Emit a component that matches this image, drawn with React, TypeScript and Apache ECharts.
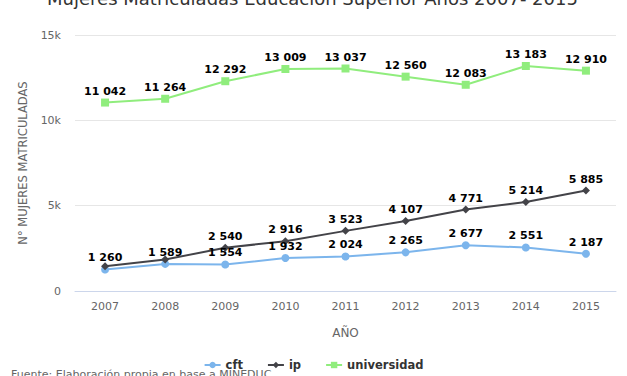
import React, { useEffect, useRef } from "react";
import * as echarts from "echarts";

const years = ["2007", "2008", "2009", "2010", "2011", "2012", "2013", "2014", "2015"];
const cft = [1260, 1589, 1554, 1932, 2024, 2265, 2677, 2551, 2187];
const ip = [1450, 1840, 2540, 2916, 3523, 4107, 4771, 5214, 5885];
const universidad = [11042, 11264, 12292, 13009, 13037, 12560, 12083, 13183, 12910];
const ipHiddenLabels = [0, 1];

const titleText = "Mujeres Matriculadas Educación Superior Años 2007- 2015";
const footerText = "Fuente: Elaboración propia en base a MINEDUC";
const yTicksLabel = (v: number) => (v === 0 ? "0" : v / 1000 + "k");

const FONT = "DejaVu Sans";
const fmt = (v: number) => String(v).replace(/\B(?=(\d{3})+(?!\d))/g, " ");

export default function App() {
  const ref = useRef<HTMLDivElement>(null);
  useEffect(() => {
    if (!ref.current) return;
    const chart = echarts.init(ref.current, undefined, { renderer: "svg" });
    const label = {
      show: true,
      position: "top",
      distance: 2,
      color: "#000",
      fontSize: 11,
      fontWeight: "bold",
      fontFamily: FONT,
      formatter: (p: any) => fmt(p.value),
    };
    const mk = (name: string, data: number[], color: string, symbol: string, hidden: number[] = []) => ({
      name,
      type: "line",
      data: data.map((v, i) => (hidden.includes(i) ? { value: v, label: { show: false } } : v)),
      symbol,
      symbolSize: 8,
      lineStyle: { color, width: 2 },
      itemStyle: { color },
      label,
    });
    chart.setOption({
      animation: false,
      textStyle: { fontFamily: FONT },
      grid: { left: 75, right: 11, top: 35, bottom: 85, containLabel: false },
      legend: {
        left: "center",
        top: 354,
        itemWidth: 16,
        itemHeight: 8,
        itemGap: 24,
        textStyle: { fontSize: 11.5, fontWeight: "bold", color: "#333", fontFamily: FONT },
        data: ["cft", "ip", "universidad"],
      },
      xAxis: {
        type: "category",
        data: years,
        boundaryGap: true,
        axisLine: { lineStyle: { color: "#ccd6eb" } },
        axisTick: { show: false },
        axisLabel: { color: "#666", fontSize: 11, margin: 10, fontFamily: FONT },
        name: "AÑO",
        nameLocation: "middle",
        nameGap: 36,
        nameTextStyle: { color: "#666", fontSize: 12, fontFamily: FONT },
      },
      yAxis: {
        type: "value",
        min: 0,
        max: 15000,
        interval: 5000,
        axisLine: { show: false },
        axisTick: { show: false },
        splitLine: { lineStyle: { color: "#e6e6e6" } },
        axisLabel: { color: "#666", fontSize: 11, margin: 14, fontFamily: FONT, formatter: yTicksLabel },
        name: "N° MUJERES MATRICULADAS",
        nameLocation: "middle",
        nameRotate: 90,
        nameGap: 46,
        nameTextStyle: { color: "#666", fontSize: 11.5, fontFamily: FONT },
      },
      graphic: [
        {
          type: "text",
          x: 312.5,
          y: -1.2,
          style: { text: titleText, fill: "#333", fontSize: 18, fontFamily: FONT, align: "center", verticalAlign: "middle" },
        },
        {
          type: "text",
          x: 11,
          y: 374,
          z: -1,
          style: { text: footerText, fill: "#666", fontSize: 11, fontFamily: FONT, align: "left", verticalAlign: "middle" },
        },
      ],
      series: [
        mk("cft", cft, "#7cb5ec", "circle"),
        mk("ip", ip, "#434348", "diamond", ipHiddenLabels),
        mk("universidad", universidad, "#90ed7d", "rect"),
      ],
    });
    return () => chart.dispose();
  }, []);
  return <div ref={ref} style={{ width: 627, height: 376, position: "absolute", left: 0, top: 0 }} />;
}
